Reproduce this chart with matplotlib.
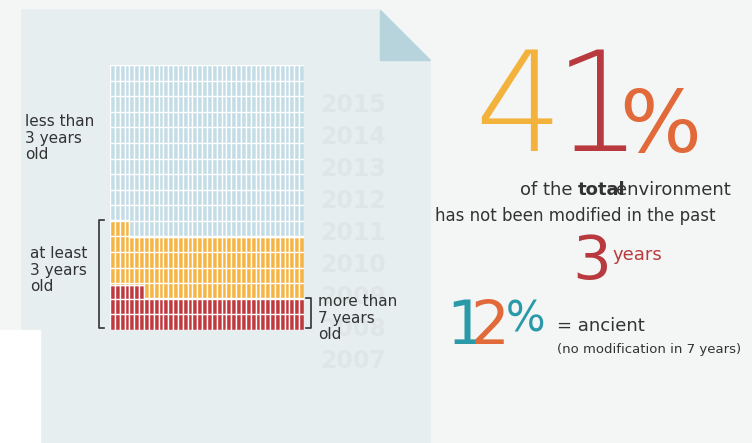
import matplotlib
matplotlib.use("Agg")
import matplotlib.pyplot as plt
from matplotlib.patches import Rectangle, Polygon

n_cols = 40
red_vals = [0.17]*7 + [0.12]*33
orange_vals = [0.415]*4 + [0.35]*36
years = ["2015","2014","2013","2012","2011","2010","2009","2008","2007"]

W, H = 752, 443
fig = plt.figure(figsize=(W/100, H/100), dpi=100)
fig.patch.set_facecolor("#f3f6f5")
bg = fig.add_axes([0, 0, 1, 1]); bg.set_xlim(0, W); bg.set_ylim(H, 0); bg.axis("off")
bg.add_patch(Polygon([(22,10),(380,10),(430,60),(430,443),(22,443)], color="#e6eef0", zorder=0))
bg.add_patch(Polygon([(380,10),(380,60),(430,60)], color="#b7d3dc", zorder=1))
bg.add_patch(Rectangle((0,330),40,113,color="#ffffff",zorder=1))
for i, y in enumerate(years):
    bg.text(320, 105+i*32, y, fontsize=17, color="#dfe6e8", fontweight="bold", va="center", zorder=1)
bg.text(25, 138, "less than\n3 years\nold", fontsize=11, va="center", ha="left", color="#333", linespacing=1.15)
bg.text(30, 270, "at least\n3 years\nold", fontsize=11, va="center", ha="left", color="#333", linespacing=1.15)
bg.plot([104,99,99,104],[220,220,328,328], color="#333", lw=1.2)
bg.plot([306,311,311,306],[298,298,328,328], color="#333", lw=1.2)
bg.text(318, 318, "more than\n7 years\nold", fontsize=11, va="center", ha="left", color="#333", linespacing=1.15)

ax = fig.add_axes([110/W, 1-330/H, 194/W, 265/H])
x = list(range(n_cols))
blue = [1 - o for o in orange_vals]
ora = [o - r for o, r in zip(orange_vals, red_vals)]
ax.bar(x, red_vals, width=1, color="#c0393f", edgecolor="white", linewidth=1)
ax.bar(x, ora, bottom=red_vals, width=1, color="#f6b443", edgecolor="white", linewidth=1)
ax.bar(x, blue, bottom=orange_vals, width=1, color="#c3dce5", edgecolor="white", linewidth=1)
for k in range(1, 17):
    ax.axhline(k/17, color="white", lw=1)
ax.set_xlim(-0.5, n_cols-0.5); ax.set_ylim(0, 1); ax.axis("off")

bg.text(518, 112, "4", fontsize=100, color="#f3b23c", va="center", ha="center", fontweight="light")
bg.text(598, 112, "1", fontsize=100, color="#b83a3e", va="center", ha="center", fontweight="light")
bg.text(660, 128, "%", fontsize=62, color="#e26a3a", va="center", ha="center")
bg.text(578, 190, "of the ", fontsize=13, color="#333", ha="right", va="center")
bg.text(578, 190, "total", fontsize=13, color="#333", ha="left", va="center", fontweight="bold")
bg.text(616, 190, "environment", fontsize=13, color="#333", ha="left", va="center")
bg.text(575, 216, "has not been modified in the past", fontsize=12, color="#333", ha="center", va="center")
bg.text(592, 262, "3", fontsize=44, color="#b83a3e", ha="center", va="center")
bg.text(613, 255, "years", fontsize=13, color="#b83a3e", ha="left", va="center")
bg.text(466, 328, "1", fontsize=44, color="#2a9aa8", ha="center", va="center")
bg.text(490, 328, "2", fontsize=44, color="#e26a3a", ha="center", va="center")
bg.text(525, 320, "%", fontsize=30, color="#2a9aa8", ha="center", va="center")
bg.text(557, 326, "= ancient", fontsize=13, color="#333", ha="left", va="center")
bg.text(557, 349, "(no modification in 7 years)", fontsize=9.5, color="#333", ha="left", va="center")

fig.savefig("out.png", dpi=100, facecolor=fig.get_facecolor())
